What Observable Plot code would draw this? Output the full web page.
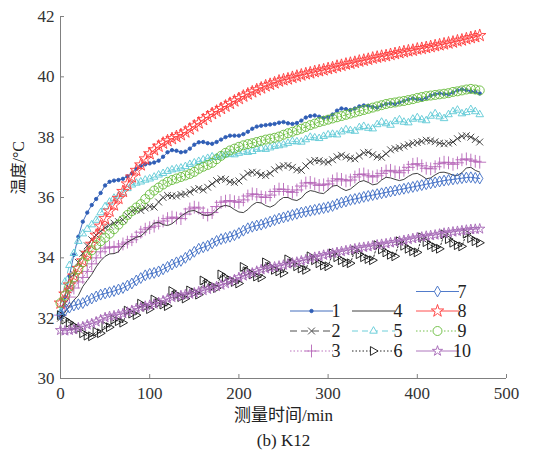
<!DOCTYPE html>
<html><head><meta charset="utf-8">
<script src="https://cdn.jsdelivr.net/npm/d3@7"></script>
<script src="https://cdn.jsdelivr.net/npm/@observablehq/plot@0.6"></script>
<style>body{margin:0;background:#fff}
#chart svg text{font-family:"Liberation Serif","Noto Sans CJK SC",serif !important}</style>
</head><body><div id="chart"></div>
<script>
const timeMin = [0,5,10,15,20,25,30,35,40,45,50,55,60,65,70,75,80,85,90,95,100,105,110,115,120,125,130,135,140,145,150,155,160,165,170,175,180,185,190,195,200,205,210,215,220,225,230,235,240,245,250,255,260,265,270,275,280,285,290,295,300,305,310,315,320,325,330,335,340,345,350,355,360,365,370,375,380,385,390,395,400,405,410,415,420,425,430,435,440,445,450,455,460,465,470];

const s1 = [32.1,32.7,33.4,34.1,34.7,35.2,35.5,35.75,35.95,36.15,
36.4,36.52,36.56,36.58,36.62,36.7,36.8,36.95,37.05,37.1,
37.13,37.16,37.22,37.35,37.5,37.57,37.55,37.5,37.52,37.62,
37.75,37.83,37.84,37.8,37.78,37.84,37.92,38.0,38.05,38.05,
38.05,38.1,38.18,38.28,38.35,38.38,38.4,38.42,38.44,38.48,
38.5,38.46,38.44,38.47,38.55,38.65,38.7,38.72,38.68,38.64,
38.66,38.75,38.88,38.95,38.93,38.9,38.95,39.02,39.05,39.04,
39.0,38.98,39.05,39.1,39.12,39.1,39.15,39.2,39.25,39.28,
39.26,39.25,39.3,39.38,39.42,39.45,39.43,39.42,39.48,39.55,
39.58,39.56,39.52,39.5,39.45];
const s2 = [32.0,32.5,33.0,33.45,33.85,34.15,34.4,34.6,34.75,34.88,
35.0,35.08,35.15,35.2,35.26,35.4,35.55,35.6,35.57,35.65,
35.7,35.68,35.85,36.0,36.07,36.05,36.05,36.1,36.12,36.18,
36.26,36.3,36.25,36.34,36.45,36.56,36.62,36.6,36.52,36.5,
36.55,36.68,36.8,36.84,36.82,36.75,36.73,36.8,36.92,37.0,
37.05,37.06,37.0,36.92,36.9,37.05,37.18,37.23,37.22,37.18,
37.17,37.25,37.35,37.4,37.35,37.3,37.28,37.38,37.48,37.5,
37.42,37.35,37.33,37.45,37.58,37.62,37.65,37.7,37.75,37.8,
37.82,37.86,37.9,37.88,37.85,37.8,37.78,37.8,37.84,37.95,
38.03,38.05,38.0,37.92,37.84];
const s3 = [32.1,32.4,32.7,33.0,33.2,33.35,33.55,33.8,34.0,34.2,
34.32,34.36,34.35,34.38,34.46,34.52,34.6,34.7,34.85,34.95,
35.0,35.05,35.15,35.22,35.3,35.35,35.32,35.3,35.45,35.62,
35.68,35.65,35.5,35.42,35.5,35.7,35.84,35.88,35.9,35.86,
35.84,35.92,36.05,36.12,36.1,36.02,36.0,36.08,36.2,36.28,
36.27,36.2,36.17,36.25,36.38,36.48,36.5,36.45,36.4,36.42,
36.45,36.55,36.62,36.6,36.55,36.58,36.68,36.76,36.78,36.72,
36.68,36.72,36.8,36.88,36.9,36.85,36.82,36.9,37.0,37.1,
37.12,37.05,36.97,36.95,37.02,37.12,37.17,37.15,37.1,37.15,
37.25,37.28,37.24,37.2,37.17];
const s4 = [32.0,32.2,32.4,32.6,32.75,33.05,33.25,33.45,33.7,33.9,
34.05,34.13,34.14,34.2,34.4,34.52,34.6,34.68,34.72,34.85,
35.0,35.15,35.18,35.1,35.07,35.13,35.25,35.38,35.48,35.55,
35.57,35.5,35.42,35.4,35.45,35.58,35.7,35.74,35.7,35.6,
35.52,35.5,35.6,35.75,35.84,35.82,35.73,35.68,35.75,35.9,
36.0,36.0,35.93,35.9,35.98,36.15,36.23,36.2,36.15,36.13,
36.25,36.38,36.4,36.3,36.23,36.28,36.4,36.52,36.56,36.5,
36.42,36.45,36.58,36.67,36.65,36.6,36.56,36.6,36.7,36.78,
36.8,36.72,36.62,36.65,36.75,36.83,36.84,36.8,36.74,36.73,
36.82,36.98,37.0,36.9,36.84];
const s5 = [32.2,33.2,33.75,34.15,34.55,34.8,34.95,35.1,35.25,35.5,
35.7,35.85,35.98,36.05,36.15,36.3,36.42,36.48,36.52,36.58,
36.62,36.68,36.75,36.8,36.87,36.92,36.95,36.98,37.03,37.1,
37.15,37.2,37.25,37.3,37.35,37.33,37.38,37.42,37.44,37.42,
37.47,37.52,37.5,37.53,37.6,37.62,37.6,37.65,37.7,37.72,
37.75,37.8,37.86,37.85,37.84,37.92,38.0,37.98,37.96,38.03,
38.08,38.1,38.08,38.18,38.25,38.22,38.2,38.32,38.36,38.3,
38.28,38.42,38.5,38.45,38.4,38.52,38.58,38.5,38.48,38.6,
38.65,38.58,38.55,38.7,38.78,38.68,38.62,38.75,38.85,38.9,
38.78,38.82,38.92,38.85,38.75];
const s6 = [32.1,31.95,31.85,31.75,31.65,31.5,31.42,31.4,31.55,31.5,
31.75,31.7,31.95,31.9,31.85,32.25,32.15,32.1,32.48,32.38,
32.3,32.62,32.5,32.45,32.4,32.9,32.78,32.7,32.65,32.92,
32.85,32.78,33.25,33.15,33.05,33.0,33.45,33.35,33.25,33.2,
33.15,33.7,33.55,33.45,33.38,33.35,33.85,33.7,33.6,33.55,
33.5,33.95,33.82,33.72,33.65,33.6,34.05,33.92,33.82,33.75,
33.72,34.15,34.02,33.92,33.85,33.82,34.25,34.12,34.02,33.96,
33.92,34.42,34.28,34.18,34.1,34.05,34.55,34.4,34.3,34.22,
34.18,34.68,34.52,34.42,34.35,34.3,34.78,34.62,34.5,34.42,
34.38,34.8,34.65,34.55,34.5];
const s7 = [32.1,32.25,32.35,32.42,32.46,32.5,32.58,32.65,32.72,32.78,
32.82,32.86,32.9,32.95,33.0,33.08,33.15,33.25,33.33,33.42,
33.47,33.5,33.55,33.62,33.7,33.78,33.85,33.9,34.0,34.1,
34.2,34.3,34.35,34.4,34.48,34.56,34.62,34.66,34.7,34.75,
34.82,34.9,34.98,35.03,35.07,35.1,35.15,35.2,35.25,35.3,
35.34,35.38,35.42,35.46,35.5,35.53,35.56,35.59,35.62,35.65,
35.68,35.72,35.78,35.83,35.87,35.92,35.95,35.98,36.02,36.05,
36.08,36.11,36.14,36.17,36.2,36.23,36.26,36.29,36.32,36.35,
36.38,36.41,36.44,36.47,36.5,36.53,36.56,36.58,36.6,36.62,
36.64,36.66,36.67,36.65,36.63];
const s8 = [32.5,32.8,33.1,33.4,33.65,33.9,34.15,34.45,34.75,35.05,
35.3,35.55,35.75,35.97,36.2,36.45,36.68,36.9,37.08,37.28,
37.45,37.58,37.7,37.8,37.88,37.95,38.02,38.08,38.17,38.27,
38.37,38.47,38.58,38.68,38.78,38.86,38.95,39.03,39.12,39.2,
39.28,39.36,39.43,39.5,39.57,39.63,39.7,39.75,39.8,39.86,
39.9,39.93,39.98,40.02,40.06,40.1,40.13,40.17,40.2,40.23,
40.27,40.3,40.35,40.38,40.42,40.45,40.48,40.52,40.55,40.58,
40.62,40.65,40.68,40.7,40.74,40.77,40.8,40.83,40.86,40.88,
40.92,40.94,40.97,41.0,41.03,41.06,41.09,41.12,41.15,41.19,
41.22,41.26,41.3,41.33,41.37];
const s9 = [32.5,32.75,33.05,33.35,33.62,33.85,34.05,34.25,34.42,34.55,
34.67,34.8,34.95,35.1,35.25,35.42,35.55,35.67,35.78,35.95,
36.1,36.23,36.33,36.43,36.52,36.58,36.63,36.68,36.73,36.78,
36.85,36.95,37.02,37.08,37.15,37.27,37.38,37.48,37.56,37.62,
37.68,37.73,37.77,37.8,37.84,37.88,37.92,37.95,37.98,38.02,
38.08,38.13,38.18,38.23,38.28,38.34,38.4,38.45,38.5,38.54,
38.58,38.62,38.66,38.7,38.74,38.78,38.82,38.86,38.9,38.94,
38.98,39.02,39.06,39.1,39.13,39.15,39.18,39.2,39.23,39.26,
39.3,39.33,39.36,39.38,39.4,39.42,39.44,39.46,39.5,39.52,
39.55,39.58,39.6,39.58,39.55];
const s10 = [31.6,31.58,31.6,31.62,31.68,31.72,31.78,31.82,31.88,31.95,
32.02,32.06,32.08,32.12,32.15,32.2,32.26,32.32,32.36,32.4,
32.43,32.47,32.52,32.58,32.64,32.69,32.72,32.75,32.78,32.8,
32.84,32.88,32.92,32.96,33.0,33.05,33.1,33.15,33.22,33.28,
33.35,33.4,33.45,33.5,33.56,33.61,33.64,33.67,33.7,33.73,
33.76,33.8,33.83,33.86,33.9,33.94,33.98,34.02,34.05,34.09,
34.12,34.15,34.18,34.21,34.24,34.27,34.3,34.33,34.35,34.37,
34.4,34.43,34.45,34.47,34.5,34.52,34.55,34.58,34.61,34.64,
34.67,34.69,34.72,34.74,34.76,34.79,34.82,34.84,34.86,34.88,
34.9,34.92,34.94,34.95,34.96];

const seriesNames = ["1","2","3","4","5","6","7","8","9","10"];
const seriesValues = [s1,s2,s3,s4,s5,s6,s7,s8,s9,s10];
const xTicks = [0,100,200,300,400,500];
const yTicks = [30,32,34,36,38,40,42];
const xLabel = "测量时间/min";
const yLabel = "温度/°C";
const caption = "(b) K12";

const rightTri = {draw(ctx, size) {
  const s = Math.sqrt(size) * 0.62;
  ctx.moveTo(s * 1.05, 0);
  ctx.lineTo(-s * 0.7, -s);
  ctx.lineTo(-s * 0.7, s);
  ctx.closePath();
}};
const symMap = {circle: d3.symbolCircle, times: d3.symbolTimes, plus: d3.symbolPlus,
  triangle2: d3.symbolTriangle2, diamond: d3.symbolDiamond, star: d3.symbolStar};

const styles = [
  {color:"#2f5db5", dash:null, sym:"circle", r:1.7, fill:"#2f5db5", lw:0.9},
  {color:"#3a3a3a", dash:"7,4", sym:"times", r:3.2, fill:"none", lw:0.9},
  {color:"#b565b8", dash:"1.5,2", sym:"plus", r:4.2, fill:"none", lw:0.9},
  {color:"#2a2a2a", dash:null, sym:null, r:0, fill:"none", lw:0.9},
  {color:"#5fc9d6", dash:"6,4", sym:"triangle2", r:3.6, fill:"none", lw:0.9},
  {color:"#111111", dash:"1.5,2", sym:rightTri, r:4.0, fill:"none", lw:0.9},
  {color:"#3d6cc4", dash:null, sym:"diamond", r:3.3, fill:"none", lw:0.9},
  {color:"#ff3a3a", dash:null, sym:"star", r:3.9, fill:"none", lw:0.9},
  {color:"#66bb3a", dash:"1.5,2", sym:"circle", r:4.5, fill:"none", lw:0.9},
  {color:"#a567b5", dash:null, sym:"star", r:3.2, fill:"none", lw:0.9}
];

const font = "Liberation Serif, DejaVu Serif, serif";
const cjkFont = "Liberation Serif, Noto Sans CJK SC, serif";
const W = 543, H = 458, mL = 60, mR = 37, mT = 16, mB = 80;

const marks = [];
marks.push(Plot.ruleX([0], {stroke:"#808080", strokeWidth:1}));
marks.push(Plot.ruleY([30], {stroke:"#808080", strokeWidth:1}));
marks.push(Plot.ruleX(xTicks, {x:d=>d, stroke:"#808080", insetTop:(H - mT - mB) - 4}));
marks.push(Plot.ruleY(yTicks, {y:d=>d, stroke:"#808080", insetRight:(W - mL - mR) - 4}));
marks.push(Plot.axisX({ticks:xTicks, tickSize:0, tickPadding:8, label:null, fill:"#333", fontSize:17, fontFamily:font}));
marks.push(Plot.axisY({ticks:yTicks, tickSize:0, tickPadding:6, label:null, fill:"#333", fontSize:17, fontFamily:font}));

seriesValues.forEach((vals, k) => {
  const st = styles[k];
  const rows = timeMin.map((t, i) => ({t, v: vals[i]}));
  marks.push(Plot.line(rows, {x:"t", y:"v", stroke:st.color, strokeWidth:st.lw, strokeDasharray:st.dash}));
  if (st.sym) {
    marks.push(Plot.dot(rows, {x:"t", y:"v", symbol:st.sym, r:st.r, stroke:st.color,
      fill:st.fill, strokeWidth:0.9}));
  }
});

marks.push(Plot.text([yLabel], {text:d=>d, frameAnchor:"left", dx:-42, dy:-3, rotate:-90, fontSize:16, fill:"#222", fontFamily:cjkFont}));
marks.push(Plot.text([xLabel], {text:d=>d, frameAnchor:"bottom", dy:42, fontSize:17, fill:"#222", fontFamily:cjkFont}));
marks.push(Plot.text([caption], {text:d=>d, frameAnchor:"bottom", dy:67, fontSize:17, fill:"#222", fontFamily:font}));

const chart = Plot.plot({
  width: W, height: H, marginLeft: mL, marginRight: mR, marginTop: mT, marginBottom: mB,
  x: {domain:[0,500]}, y: {domain:[30,42]},
  style: {fontFamily: font, fontSize: "17px", background: "#fff", overflow: "visible"},
  marks
});
document.getElementById("chart").appendChild(chart);

const legendLayout = [
  {k:0, col:0, row:1}, {k:1, col:0, row:2}, {k:2, col:0, row:3},
  {k:3, col:1, row:1}, {k:4, col:1, row:2}, {k:5, col:1, row:3},
  {k:6, col:2, row:0}, {k:7, col:2, row:1}, {k:8, col:2, row:2}, {k:9, col:2, row:3}
];
const colX = [290, 352, 416];
const rowY = [291.5, 311, 331, 351];
const lineLen = 43;
const g = d3.select(chart).append("g").attr("font-family", font).attr("font-size", 18);
legendLayout.forEach(({k, col, row}) => {
  const st = styles[k];
  const x0 = colX[col], y = rowY[row];
  g.append("line").attr("x1", x0).attr("x2", x0 + lineLen).attr("y1", y).attr("y2", y)
    .attr("stroke", st.color).attr("stroke-width", st.lw)
    .attr("stroke-dasharray", st.dash);
  if (st.sym) {
    const type = typeof st.sym === "string" ? symMap[st.sym] : st.sym;
    g.append("path").attr("d", d3.symbol(type, Math.PI * st.r * st.r)())
      .attr("transform", `translate(${x0 + lineLen / 2},${y})`)
      .attr("fill", st.fill === "none" ? "#fff" : st.fill).attr("stroke", st.color).attr("stroke-width", 0.9);
  }
  g.append("text").attr("x", x0 + lineLen + 3).attr("y", y).attr("dy", "0.35em")
    .attr("fill", "#222").text(seriesNames[k]);
});
</script>
</body></html>
